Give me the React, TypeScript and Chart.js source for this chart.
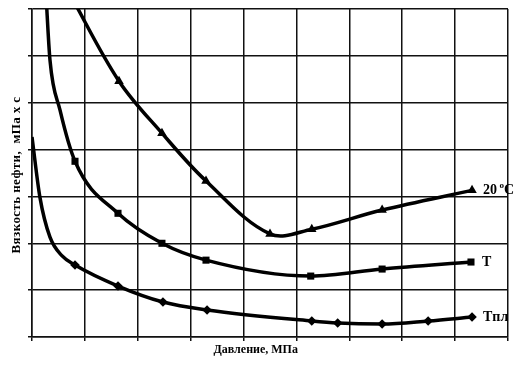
import React, { useEffect, useRef } from "react";
import { Chart, registerables } from "chart.js";

Chart.register(...registerables);

// Grid: pressure axis in 9 divisions, viscosity axis in 7 divisions (no tick values shown)
const xTicksMax = 9;
const yTicksMax = 7;

// 20 °C series (triangles)
const t20LeadX = [0.7];
const t20LeadY = [7.35];
const t20X = [1.645, 2.457, 3.29, 4.5, 5.29, 6.62, 8.32];
const t20Y = [5.46, 4.35, 3.33, 2.2, 2.3, 2.71, 3.13];

// T series (squares)
const tLeadX = [0.26, 0.34, 0.53];
const tLeadY = [7.4, 5.91, 4.84];
const tX = [0.813, 1.626, 2.457, 3.29, 5.27, 6.62, 8.3];
const tY = [3.75, 2.64, 2.0, 1.64, 1.3, 1.45, 1.6];

// Tпл series (diamonds)
const tplLeadX = [0, 0.15, 0.34, 0.57];
const tplLeadY = [4.27, 2.98, 2.13, 1.73];
const tplX = [0.813, 1.626, 2.476, 3.31, 5.29, 5.78, 6.62, 7.49, 8.32];
const tplY = [1.535, 1.087, 0.746, 0.576, 0.341, 0.299, 0.277, 0.341, 0.426];

const seriesLabels = ["20", "T", "Tпл"];
const xTitle = "Давление, МПа";
const yTitle = "Вязкость нефти,  мПа х с";

const FONT = "'Liberation Serif', 'Times New Roman', serif";

function build(leadX: number[], leadY: number[], x: number[], y: number[]) {
  return [
    ...leadX.map((v, i) => ({ x: v, y: leadY[i] })),
    ...x.map((v, i) => ({ x: v, y: y[i] })),
  ];
}

function radii(leadCount: number, count: number, r: number) {
  return [...Array(leadCount).fill(0), ...Array(count).fill(r)];
}

const endLabels = {
  id: "endLabels",
  afterDatasetsDraw(chart: any) {
    const ctx = chart.ctx;
    ctx.save();
    ctx.fillStyle = "#000";
    ctx.textBaseline = "middle";
    ctx.textAlign = "left";
    chart.data.datasets.forEach((ds: any, i: number) => {
      const meta = chart.getDatasetMeta(i);
      const last = meta.data[meta.data.length - 1];
      const x = last.x + 11;
      const y = last.y;
      ctx.font = `bold 14px ${FONT}`;
      if (i === 0) {
        const base = seriesLabels[0] + " ";
        ctx.fillText(base, x, y);
        const w = ctx.measureText(base).width;
        ctx.font = `bold 9px ${FONT}`;
        ctx.fillText("o", x + w - 1, y - 5);
        const w2 = ctx.measureText("o").width;
        ctx.font = `bold 14px ${FONT}`;
        ctx.fillText("C", x + w - 1 + w2, y);
      } else {
        ctx.fillText(seriesLabels[i], x, y);
      }
    });
    ctx.restore();
  },
};

const axisTitles = {
  id: "axisTitles",
  afterDraw(chart: any) {
    const ctx = chart.ctx;
    const a = chart.chartArea;
    ctx.save();
    ctx.fillStyle = "#000";
    ctx.textAlign = "center";
    ctx.textBaseline = "middle";
    ctx.font = `bold 12px ${FONT}`;
    ctx.fillText(xTitle, a.left + (a.right - a.left) * 0.47, a.bottom + 13);
    ctx.translate(17, (a.top + a.bottom) / 2 + 2);
    ctx.rotate(-Math.PI / 2);
    ctx.font = `bold 13px ${FONT}`;
    try {
      (ctx as any).letterSpacing = "0.4px";
    } catch (e) {}
    ctx.fillText(yTitle, 0, 0);
    ctx.restore();
  },
};

export default function App() {
  const ref = useRef<HTMLCanvasElement | null>(null);
  useEffect(() => {
    if (!ref.current) return;
    const common = {
      borderColor: "#000",
      backgroundColor: "#000",
      pointBackgroundColor: "#000",
      pointBorderColor: "#000",
      borderWidth: 3.5,
      showLine: true,
      pointBorderWidth: 0,
    };
    const chart = new Chart(ref.current, {
      type: "scatter",
      data: {
        datasets: [
          {
            ...common,
            label: "20 °C",
            data: build(t20LeadX, t20LeadY, t20X, t20Y),
            tension: 0.35,
            pointStyle: "triangle",
            pointRadius: radii(t20LeadX.length, t20X.length, 5.5),
          },
          {
            ...common,
            label: "T",
            data: build(tLeadX, tLeadY, tX, tY),
            cubicInterpolationMode: "monotone",
            pointStyle: "rect",
            pointRadius: radii(tLeadX.length, tX.length, 5),
          },
          {
            ...common,
            label: "Tпл",
            data: build(tplLeadX, tplLeadY, tplX, tplY),
            cubicInterpolationMode: "monotone",
            pointStyle: "rectRot",
            pointRadius: radii(tplLeadX.length, tplX.length, 4.8),
          },
        ],
      },
      options: {
        animation: false,
        responsive: false,
        devicePixelRatio: 1,
        layout: { padding: { left: 28, top: 9, right: 14, bottom: 24 } },
        plugins: {
          legend: { display: false },
          tooltip: { enabled: false },
        },
        scales: {
          x: {
            type: "linear",
            min: 0,
            max: xTicksMax,
            ticks: { display: false, stepSize: 1 },
            grid: { color: "#111", lineWidth: 1.5, tickLength: 4, drawTicks: true },
            border: { color: "#111", width: 1.5 },
          },
          y: {
            type: "linear",
            min: 0,
            max: yTicksMax,
            ticks: { display: false, stepSize: 1 },
            grid: { color: "#111", lineWidth: 1.5, tickLength: 4, drawTicks: true },
            border: { color: "#111", width: 1.5 },
          },
        },
      },
      plugins: [endLabels, axisTitles],
    });
    return () => chart.destroy();
  }, []);
  return (
    <div style={{ position: "fixed", left: 0, top: 0, width: 522, height: 365, background: "#fff" }}>
      <canvas ref={ref} width={522} height={365} style={{ display: "block", width: 522, height: 365 }} />
    </div>
  );
}
